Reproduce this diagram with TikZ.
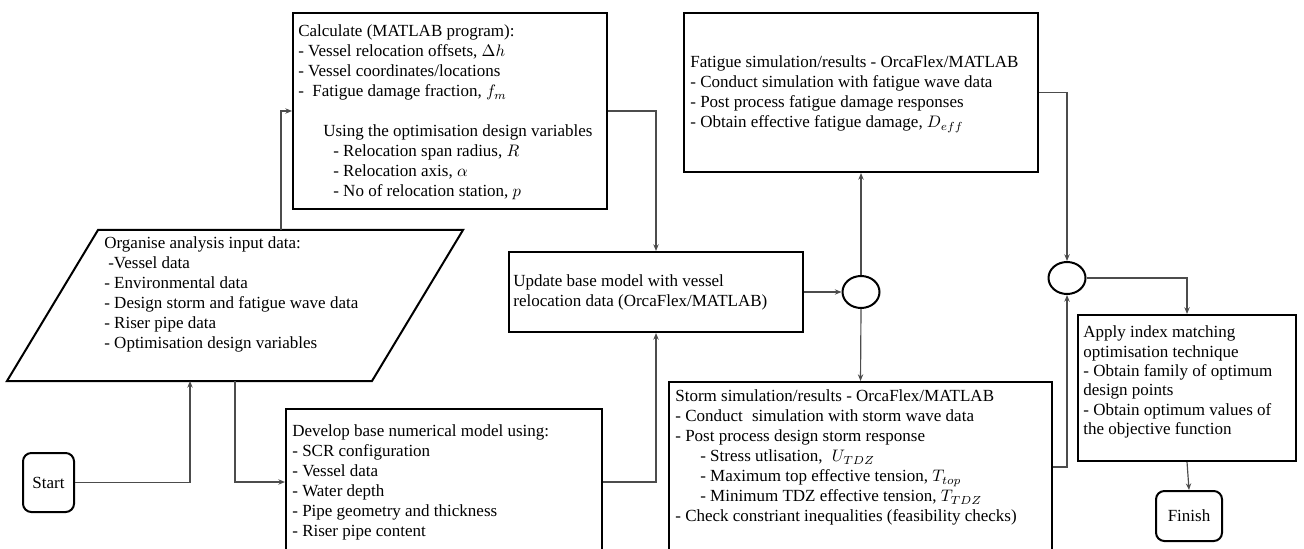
\documentclass[tikz,border=0pt]{standalone}
\usepackage{fontspec}
\setmainfont{Liberation Serif}
\usetikzlibrary{arrows.meta,shapes.geometric,calc}

% one drawing unit = 0.6pt
\tikzset{
  sz/.style 2 args={minimum width=#1*0.6pt, minimum height=#2*0.6pt},
  box/.style={draw=black, line width=1.2pt, rectangle, inner sep=0pt},
  term/.style={box, rounded corners=5pt, font=\fontsize{10.2pt}{12pt}\selectfont},
  junction/.style={draw=black, line width=1.2pt, ellipse, inner sep=0pt, sz={37}{32}},
  txt/.style={anchor=north west, inner sep=0pt, align=left, font=\fontsize{10.2pt}{12pt}\selectfont},
  conn/.style={draw=black!70, line width=0.7pt, -{Stealth[length=4pt,width=3.2pt]}},
}
\newcommand{\fl}{\rule{0pt}{9pt}}

\begin{document}
\begin{tikzpicture}[x=0.6pt,y=-0.6pt]
\useasboundingbox (0,0) rectangle (1304,549);
\clip (0,0) rectangle (1304,549);

% ---- input data (parallelogram) ----
\coordinate (inTL) at (98,230);
\coordinate (inTR) at (463,230);
\coordinate (inBR) at (372,381);
\coordinate (inBL) at (7,381);
\draw[line width=1.2pt, line join=miter] (inTL) -- (inTR) -- (inBR) -- (inBL) -- cycle;
\coordinate (inTop) at (281,230);
\coordinate (inBotL) at (190,381);
\coordinate (inBotR) at (235,381);
\node[txt] (input) at (104,233.5) {\fl Organise analysis input data:\\
  \hspace*{2.4pt}-Vessel data\\
  - Environmental data\\
  - Design storm and fatigue wave data\\
  - Riser pipe data\\
  - Optimisation design variables};

% ---- boxes ----
\node[term, sz={51}{59}] (start) at (48.5,482.5) {Start};
\node[box, sz={314}{196}] (calc) at (450,111) {};
\node[box, sz={294}{80}] (update) at (656,292) {};
\node[box, sz={316}{146}] (develop) at (444,482) {};
\node[box, sz={354}{159}] (fatigue) at (861,92.5) {};
\node[box, sz={383}{170}] (storm) at (860.5,467) {};
\node[box, sz={218}{146}] (apply) at (1187,388) {};
\node[term, sz={66}{50}] (finish) at (1189,516) {Finish};
\node[junction] (j1) at (861,292) {};
\node[junction] (j2) at (1067,278) {};

% ---- box texts ----
\node[txt] (calc-t) at (298,21.5) {\fl Calculate (MATLAB program):\\
  - Vessel relocation offsets, $\Delta h$\\
  - Vessel coordinates/locations\\
  -\hspace*{5pt}Fatigue damage fraction, $f_m$\\[12pt]
  \hspace*{15pt}Using the optimisation design variables\\
  \hspace*{21pt}- Relocation span radius, $R$\\
  \hspace*{21pt}- Relocation axis, $\alpha$\\
  \hspace*{21pt}- No of relocation station, $p$};

\node[txt] (update-t) at (513,271.5) {\fl Update base model with vessel\\
  relocation data (OrcaFlex/MATLAB)};

\node[txt] (develop-t) at (292,421.5) {\fl Develop base numerical model using:\\
  - SCR configuration\\
  - Vessel data\\
  - Water depth\\
  - Pipe geometry and thickness\\
  - Riser pipe content};

\node[txt] (fatigue-t) at (690,52.5) {\fl Fatigue simulation/results - OrcaFlex/MATLAB\\
  - Conduct simulation with fatigue wave data\\
  - Post process fatigue damage responses\\
  - Obtain effective fatigue damage, $D_{eff}$};

\node[txt] (storm-t) at (675,386.5) {\fl Storm simulation/results - OrcaFlex/MATLAB\\
  - Conduct\hspace*{3pt} simulation with storm wave data\\
  - Post process design storm response\\
  \hspace*{15pt}- Stress utlisation,\hspace*{3pt} $U_{TDZ}$\\
  \hspace*{15pt}- Maximum top effective tension, $T_{top}$\\
  \hspace*{15pt}- Minimum TDZ effective tension, $T_{TDZ}$\\
  - Check constriant inequalities (feasibility checks)};

\node[txt, font=\fontsize{10.2pt}{11.6pt}\selectfont] (apply-t) at (1083,322.5) {\fl Apply index matching\\
  optimisation technique\\
  - Obtain family of optimum\\
  design points\\
  - Obtain optimum values of\\
  the objective function};

% ---- connectors ----
\draw[conn] (start.east) -| (inBotL);
\draw[conn] (inTop) |- (calc.west);
\draw[conn] (inBotR) |- (develop.west);
\draw[conn] (develop.east) -| (update.south);
\draw[conn] (calc.east) -| (update.north);
\draw[conn] (update.east) -- (j1.west);
\draw[conn] (j1.north) -- (fatigue.south);
\draw[conn] (j1.south) -- (storm.north);
\draw[conn] (fatigue.east) -| (j2.north);
\draw[conn] (storm.east) -| (j2.south);
\draw[conn] (j2.east) -| (apply.north);
\draw[conn] (apply.south) -- (finish.north);
\end{tikzpicture}
\end{document}
